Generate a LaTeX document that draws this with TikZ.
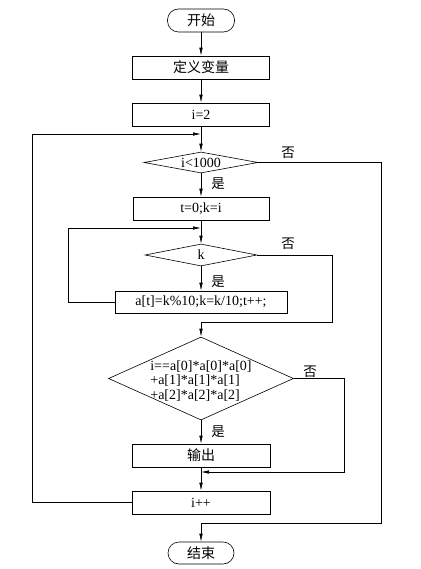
\documentclass[tikz,border=0pt]{standalone}
\usepackage{fontspec}
\setmainfont{Liberation Serif}
\newfontfamily\cjk{Noto Sans CJK SC}
\usetikzlibrary{arrows.meta,positioning,shapes.geometric}

\begin{document}
\begin{tikzpicture}[
    x=1pt,y=-1pt,
    every node/.style={font=\fontsize{14}{14.5}\selectfont},
    box/.style={rectangle,draw,line width=0.6pt,minimum width=137pt,
      minimum height=23pt,inner sep=0pt},
    term/.style={rectangle,rounded corners=11pt,draw,line width=0.6pt,
      minimum width=67pt,minimum height=23pt,inner sep=0pt},
    dec/.style={diamond,draw,line width=0.6pt,inner sep=0pt},
    lbl/.style={inner sep=0pt,font=\cjk\fontsize{13.5}{14.5}\selectfont},
    arrow/.style={-{Latex[length=8pt,width=3.5pt]},line width=0.6pt}
  ]
    \useasboundingbox (0,0) rectangle (420,569);
    \node[term] (start) at (201,20.5) {\cjk 开始};
    \node[box] (def) at (201,67.5) {\cjk 定义变量};
    \node[box] (init) at (201,114.5) {i=2};
    \node[dec,aspect=5.4,minimum width=114pt,minimum height=21pt] (lim) at (201,162.5) {i<1000};
    \node[box,minimum width=136pt] (tk) at (201,208.5) {t=0;k=i};
    \node[dec,aspect=5,minimum width=112pt,minimum height=22pt] (dk) at (201,255) {k};
    \node[box,minimum width=172pt,minimum height=22pt] (digit) at (201,302) {a[t]=k\%10;k=k/10;t++;};
    \node[dec,minimum width=185pt,minimum height=83pt] (chk) at (201,378.5) {};
    \node[align=left,inner sep=0pt] (sum) at (201,381) {i==a[0]*a[0]*a[0]\\+a[1]*a[1]*a[1]\\+a[2]*a[2]*a[2]};
    \node[box,minimum width=138pt] (out) at (201,455.5) {\cjk 输出};
    \node[box,minimum width=138pt] (inc) at (201,502.5) {i++};
    \node[term,minimum width=66pt,minimum height=22pt] (stop) at (201,553) {\cjk 结束};
    % yes / no labels
    \node[lbl] (no1) at (288,153) {否};
    \node[lbl] (yes1) at (218,184) {是};
    \node[lbl] (no2) at (288,244) {否};
    \node[lbl] (yes2) at (218,282) {是};
    \node[lbl] (no3) at (310,372) {否};
    \node[lbl] (yes3) at (218,432) {是};
    % loop corners
    \coordinate (ol) at (32,134);
    \coordinate (il) at (68,228);
    \coordinate (kr) at (332,322);
    \coordinate (cr) at (344,472);
    \coordinate (er) at (381,523);
    \draw[arrow] (start) -- (def);
    \draw[arrow] (def) -- (init);
    \draw[arrow] (init) -- (lim);
    \draw[arrow] (lim) -- (tk);
    \draw[arrow] (tk) -- (dk);
    \draw[arrow] (dk) -- (digit);
    \draw[arrow] (chk) -- (out);
    \draw[arrow] (out) -- (inc);
    \draw[arrow] (inc.west) -| (ol) -- (lim.north |- ol);
    \draw[arrow] (digit.west) -| (il) -- (dk.north |- il);
    \draw[arrow] (dk.east) -| (kr) -- (chk.north |- kr) -- (chk.north);
    \draw[arrow] (chk.east) -| (cr) -- (out.south |- cr);
    \draw[arrow] (lim.east) -| (er) -- (stop.north |- er) -- (stop.north);
  \end{tikzpicture}
\end{document}
